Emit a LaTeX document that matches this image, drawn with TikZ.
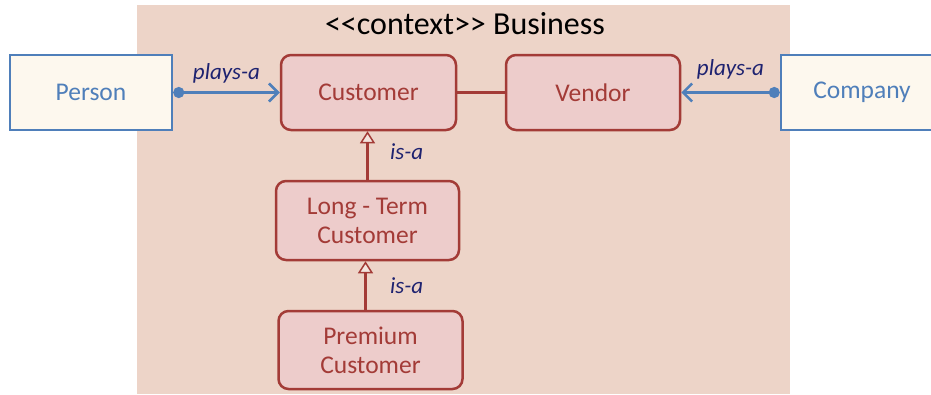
\documentclass[tikz,border=0pt]{standalone}
\usepackage{fontspec}
\setmainfont{Carlito}
\usetikzlibrary{arrows.meta, positioning}
\definecolor{ctxbg}{HTML}{EDD4C8}
\definecolor{roleline}{HTML}{A33B37}
\definecolor{rolefill}{HTML}{EDCCCB}
\definecolor{actorline}{HTML}{4F7FBA}
\definecolor{actorfill}{HTML}{FDF8EE}
\definecolor{relnavy}{HTML}{1E2270}

\begin{document}
\begin{tikzpicture}[
  x=1pt, y=-1pt,
  role/.style={rectangle, rounded corners=10pt, draw=roleline, fill=rolefill, line width=2.5pt, text=roleline, align=center, minimum width=175pt, minimum height=75pt, inner sep=0pt, font=\fontsize{25.5}{29}\selectfont},
  actor/.style={rectangle, draw=actorline, fill=actorfill, line width=2.5pt, text=actorline, align=center, minimum width=162pt, minimum height=75pt, inner sep=0pt, font=\fontsize{25.5}{29}\selectfont},
  plays/.style={line width=3pt, color=actorline, {Circle[length=11pt]}-{Straight Barb[length=9pt, width=18pt, line width=2.5pt]}},
  isa/.style={line width=2.5pt, color=roleline, -{Triangle[open, length=12pt, width=15pt, line width=1.5pt, fill=ctxbg!60!white]}},
  rel/.style={font=\fontsize{23}{26}\itshape, text=relnavy}
]
\useasboundingbox (0,0) rectangle (931,394);

% context background
\fill[ctxbg] (137,5) rectangle (790,394);
\node[font=\fontsize{32}{36}\selectfont] (title) at (465,24) {<{}<context>{}> Business};

% Customer
\node[role] (customer) at (368.5,92.5) {Customer};

% Vendor
\node[role, minimum width=174pt, right=47.5pt of customer] (vendor) {Vendor};

% Person
\node[actor, left=106.5pt of customer] (person) {Person};

% Company
\node[actor, right=98.5pt of vendor] (company) {Company};

% Long-Term Customer
\node[role, minimum width=183pt, minimum height=79pt, below=48.5pt of customer, xshift=-1pt] (longterm) {Long - Term\\Customer};

% Premium Customer
\node[role, minimum width=184pt, minimum height=78pt, below=48.5pt of longterm, xshift=3pt] (premium) {Premium\\Customer};

% Arrows
\draw[plays] (person) -- node[rel, above=4pt]{plays-a} (customer);
\draw[plays] (company) -- node[rel, above=8pt]{plays-a} (vendor);
\draw[roleline, line width=2.5pt] (customer) -- (vendor);
\draw[isa] (longterm.north) -- node[rel, right=18pt, yshift=4pt]{is-a} (longterm.north |- customer.south);
\draw[isa] ([xshift=-5pt]premium.north) -- node[rel, right=20pt]{is-a} ([xshift=-5pt]premium.north |- longterm.south);

\end{tikzpicture}
\end{document}
